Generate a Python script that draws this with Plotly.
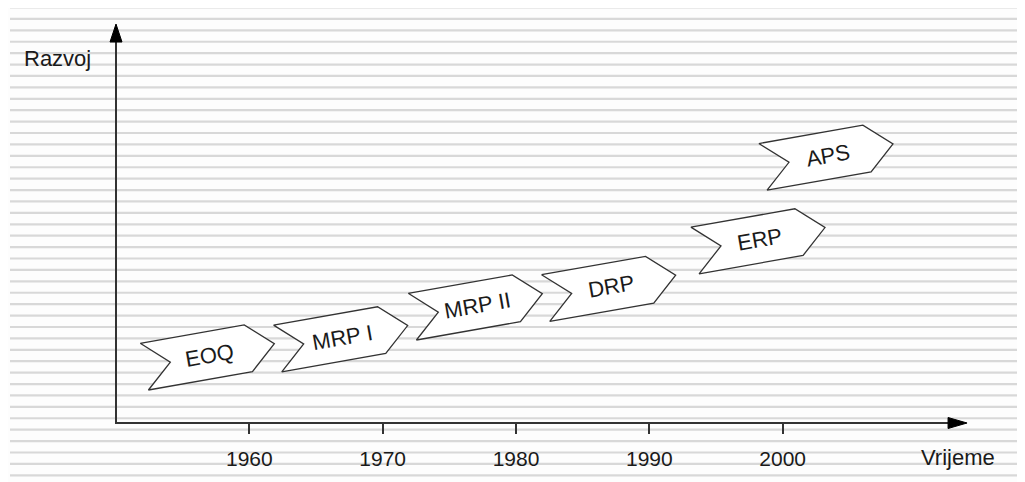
import math
import plotly.graph_objects as go

# ---------------- data ----------------
tick_years = [1960, 1970, 1980, 1990, 2000]
tick_labels = ["1960", "1970", "1980", "1990", "2000"]
stages = ["EOQ", "MRP I", "MRP II", "DRP", "ERP", "APS"]
stage_year = [1957.0, 1967.0, 1977.1, 1987.1, 1998.3, 2003.4]
stage_level = [16.95, 21.5, 29.45, 34.1, 46.0, 66.9]
origin_year = 1950
origin_level = 0
x_axis_end_year = 2013.83
y_axis_end_level = 99.75
x_title = "Vrijeme"
y_title = "Razvoj"

# ---------------- layout / style ----------------
W, H = 1025, 482
OFF = 8                      # page body margin
pxx = 13.333                 # px per year
pxy = 4.0                    # px per level unit
ORIGIN_SX, ORIGIN_SY = 116, 423   # screen position of origin
XR = [origin_year - (ORIGIN_SX - OFF) / pxx, 0]
XR[1] = XR[0] + W / pxx
YR = [origin_level - (H - (ORIGIN_SY - OFF)) / pxy, 0]
YR[1] = YR[0] + H / pxy

FONT = "Liberation Sans, Arial, Helvetica, sans-serif"
AX_COL = "#333333"
TXT_COL = "#1a1a1a"


def off(cx, cy, dx_px, dy_px):
    """pixel offset (screen, y down) -> data coords"""
    return cx + dx_px / pxx, cy - dy_px / pxy


def screen_to_data(sx, sy):
    return XR[0] + (sx - OFF) / pxx, YR[1] - (sy - OFF) / pxy


fig = go.Figure()

# chevrons (local shape in px around the centre, then rotated)
L_half, notch, H_half = 66.0, 26.4, 23.7
local = [(-L_half, -H_half), (L_half - notch, -H_half), (L_half, 0),
         (L_half - notch, H_half), (-L_half, H_half), (-L_half + notch, 0),
         (-L_half, -H_half)]
ang = math.radians(10)
for name, cx, cy in zip(stages, stage_year, stage_level):
    xs, ys = [], []
    for u, v in local:
        dx = u * math.cos(ang) + v * math.sin(ang)
        dy = -u * math.sin(ang) + v * math.cos(ang)
        x, y = off(cx, cy, dx, dy)
        xs.append(x)
        ys.append(y)
    fig.add_trace(go.Scatter(x=xs, y=ys, mode="lines", fill="toself",
                             fillcolor="white",
                             line=dict(color="#333333", width=1.3),
                             hoverinfo="skip", showlegend=False))
    fig.add_annotation(x=cx, y=cy, text=name, showarrow=False, textangle=-10,
                       font=dict(family=FONT, size=22, color=TXT_COL),
                       xanchor="center", yanchor="middle")

# axis lines with arrow heads
head_len_x, head_w_x = 19, 11
head_len_y, head_w_y = 18, 12
xb, _ = off(x_axis_end_year, origin_level, -head_len_x, 0)
fig.add_trace(go.Scatter(x=[origin_year, xb], y=[origin_level, origin_level],
                         mode="lines", line=dict(color=AX_COL, width=2),
                         hoverinfo="skip", showlegend=False))
p1 = off(xb, origin_level, 0, -head_w_x / 2)
p2 = off(xb, origin_level, 0, head_w_x / 2)
fig.add_trace(go.Scatter(x=[x_axis_end_year, p1[0], p2[0], x_axis_end_year],
                         y=[origin_level, p1[1], p2[1], origin_level],
                         mode="lines", fill="toself", fillcolor="black",
                         line=dict(color="black", width=1),
                         hoverinfo="skip", showlegend=False))
_, yb = off(origin_year, y_axis_end_level, 0, head_len_y)
_, y_start = off(origin_year, origin_level, 0, 1)
fig.add_trace(go.Scatter(x=[origin_year, origin_year], y=[y_start, yb],
                         mode="lines", line=dict(color=AX_COL, width=2),
                         hoverinfo="skip", showlegend=False))
q1 = off(origin_year, yb, -head_w_y / 2, 0)
q2 = off(origin_year, yb, head_w_y / 2, 0)
fig.add_trace(go.Scatter(x=[origin_year, q1[0], q2[0], origin_year],
                         y=[y_axis_end_level, q1[1], q2[1], y_axis_end_level],
                         mode="lines", fill="toself", fillcolor="black",
                         line=dict(color="black", width=1),
                         hoverinfo="skip", showlegend=False))

# axis titles
tx, ty = screen_to_data(57, 58)
fig.add_annotation(x=tx, y=ty, text=y_title,
                   showarrow=False, font=dict(family=FONT, size=22, color=TXT_COL),
                   xanchor="center", yanchor="middle")
tx, ty = screen_to_data(958, 457)
fig.add_annotation(x=tx, y=ty, text=x_title,
                   showarrow=False, font=dict(family=FONT, size=22, color=TXT_COL),
                   xanchor="center", yanchor="middle")

# background stripes
shapes = []
k = 0
while True:
    py = 7.5 + 11.41 * k - OFF
    if py > H:
        break
    shapes.append(dict(type="line", xref="paper", yref="paper",
                       x0=(10 - OFF) / W, x1=1, y0=1 - py / H, y1=1 - py / H,
                       line=dict(color="#d8d8d8", width=2.2), layer="below"))
    k += 1

axis_pos = (origin_level - YR[0]) / (YR[1] - YR[0])
fig.update_layout(
    width=W, height=H, margin=dict(l=0, r=0, t=0, b=0),
    paper_bgcolor="#fdfdfd", plot_bgcolor="rgba(0,0,0,0)",
    shapes=shapes, showlegend=False,
    xaxis=dict(range=XR, domain=[0, 1], anchor="free", position=axis_pos,
               showgrid=False, zeroline=False, showline=False,
               tickvals=tick_years, ticktext=tick_labels,
               ticks="outside", ticklen=10, tickwidth=1.5, tickcolor=AX_COL,
               ticklabelstandoff=7,
               tickfont=dict(family=FONT, size=21, color=TXT_COL),
               fixedrange=True),
    yaxis=dict(range=YR, visible=False, showgrid=False, zeroline=False,
               fixedrange=True),
)

fig.write_html("out.html")
